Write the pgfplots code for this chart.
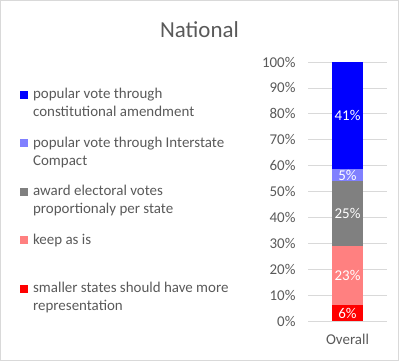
\documentclass[border=0pt]{standalone}
\usepackage{pgfplots}
\pgfplotsset{compat=1.18}
\usepackage{fontspec}
\setmainfont{Carlito}
\definecolor{txt}{RGB}{89,89,89}
\definecolor{gridc}{RGB}{217,217,217}
\definecolor{cRed}{RGB}{255,0,0}
\definecolor{cPink}{RGB}{255,128,128}
\definecolor{cGray}{RGB}{128,128,128}
\definecolor{cLBlue}{RGB}{128,128,255}
\definecolor{cBlue}{RGB}{0,0,255}
\newcommand{\legtxt}[1]{\smash{\parbox[t]{230bp}{#1}}}
\begin{document}
\begin{tikzpicture}
\draw[gridc, line width=0.75bp] (0.4bp,0.4bp) rectangle (398.6bp,360.6bp);
\node[text=txt, font=\fontsize{23}{26}\selectfont] at (199.5bp,331bp) {National};
\begin{axis}[
  at={(308bp,40bp)}, anchor=south west,
  scale only axis, width=79bp, height=259bp,
  ybar stacked, bar width=31bp,
  xmin=-0.5, xmax=0.5, ymin=0, ymax=100,
  xtick={0}, xticklabels={Overall},
  ytick={0,10,...,100},
  yticklabel={\pgfmathprintnumber{\tick}\%},
  /pgf/number format/assume math mode=true,
  ymajorgrids, grid style={gridc, line width=0.75bp},
  axis line style={draw=none},
  tick style={draw=none},
  ticklabel style={font=\fontsize{15}{17}\selectfont, text=txt},
  yticklabel style={xshift=-9bp},
  xticklabel style={yshift=-10bp},
  point meta=rawy,
  nodes near coords={\pgfmathprintnumber[fixed,precision=0]{\pgfplotspointmeta}\%},
  every node near coord/.append style={text=white, font=\fontsize{15}{17}\selectfont, anchor=center},
  reverse legend,
  legend style={at={(axis description cs:-3.646,0.889)}, anchor=north west, draw=none, fill=none, inner sep=0pt, row sep=40bp, column sep=5bp, font=\fontsize{15}{18}\selectfont, text=txt, nodes={inner sep=0pt, text depth=0pt}, cells={anchor=base west}},
  legend image code/.code={\fill[#1] (0bp,0bp) rectangle (8bp,8bp);},
]
\addplot[fill=cRed, draw=none] coordinates {(0,6.1)};
\addplot[fill=cPink, draw=none] coordinates {(0,22.8)};
\addplot[fill=cGray, draw=none] coordinates {(0,25.1)};
\addplot[fill=cLBlue, draw=none] coordinates {(0,4.6)};
\addplot[fill=cBlue, draw=none] coordinates {(0,41.4)};
\legend{
  {\legtxt{smaller states should have more\\representation}},
  {\legtxt{keep as is\\\mbox{}}},
  {\legtxt{award electoral votes\\proportionaly per state}},
  {\legtxt{popular vote through Interstate\\Compact}},
  {\legtxt{popular vote through\\constitutional amendment}}
}
\end{axis}
\end{tikzpicture}
\end{document}
